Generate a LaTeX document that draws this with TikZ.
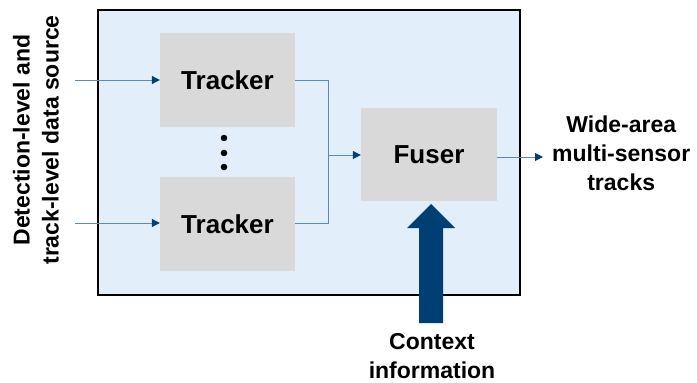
\documentclass[tikz,border=0pt]{standalone}
\usepackage{fontspec}
\setmainfont{Liberation Sans}
\usetikzlibrary{arrows.meta}
\definecolor{panel}{HTML}{E2EEFA}
\definecolor{blockgray}{HTML}{D9D9D9}
\definecolor{navy}{HTML}{003F73}
\definecolor{wire}{HTML}{5A8BB8}
\begin{document}
\begin{tikzpicture}[x=1pt,y=-1pt,
  blk/.style={fill=blockgray,draw=none,inner sep=0pt,font=\bfseries\fontsize{26}{26}\selectfont},
  lbl/.style={align=center,inner sep=1pt,font=\bfseries\fontsize{23}{29}\selectfont},
  link/.style={draw=wire,line width=1pt,-{Triangle[length=8pt,width=8pt,color=navy]}},
  wireline/.style={draw=wire,line width=1pt}]
\useasboundingbox (0,0) rectangle (697,383);
% enclosing panel
\node[draw=black,line width=2pt,fill=panel,minimum width=422pt,minimum height=285pt,inner sep=0pt] (panel) at (308.5,152.5) {};
% trackers and fuser
\node[blk,minimum width=135pt,minimum height=94pt] (t1) at (227.5,80) {Tracker};
\node[blk,minimum width=135pt,minimum height=94pt] (t2) at (227.5,224) {Tracker};
\node[blk,minimum width=136pt,minimum height=93pt] (fuser) at (429,154.5) {Fuser};
% ellipsis between trackers
\foreach \yy [count=\i] in {138,153,167} \fill (224,\yy) circle (3.3pt) coordinate (d\i);
% inputs
\coordinate (in1) at (75,80);
\coordinate (in2) at (75,223);
\draw[link] (in1) -- (t1.west |- in1);
\draw[link] (in2) -- (t2.west |- in2);
% merge of tracker outputs
\coordinate (mtop) at (328,80);
\coordinate (mbot) at (328,223);
\coordinate (mmid) at (328,155);
\draw[wireline] (t1.east |- mtop) -- (mtop) -- (mbot) -- (t2.east |- mbot);
\draw[link] (mmid) -- (fuser.west |- mmid);
% fused output
\coordinate (outend) at (543,157);
\draw[link] (fuser.east |- outend) -- (outend);
% context information arrow
\fill[navy] (419,323) -- (443,323) -- (443,228) -- (455,228) -- (431,204) -- (407,228) -- (419,228) -- cycle;
% labels
\node[lbl,anchor=west] (outlbl) at (551,153) {Wide-area\\multi-sensor\\tracks};
\node[lbl] (ctx) at (432,356) {Context\\information};
\node[lbl,rotate=90] (src) at (36,140) {Detection-level and\\track-level data source};
\end{tikzpicture}
\end{document}
